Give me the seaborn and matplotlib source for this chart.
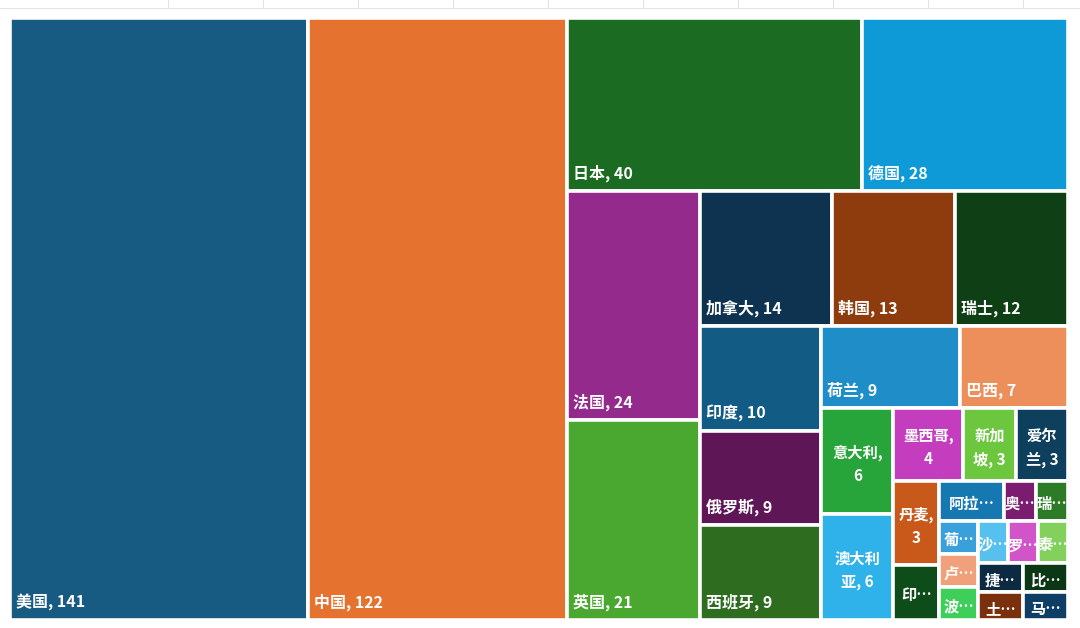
import matplotlib
matplotlib.use("Agg")
import matplotlib.pyplot as plt
import matplotlib.patches as mpatches
import seaborn as sns

# data (Excel style treemap)
countries = ["美国", "中国", "日本", "德国", "法国", "英国", "加拿大", "韩国", "瑞士",
             "印度", "俄罗斯", "西班牙", "荷兰", "巴西", "意大利", "澳大利亚",
             "墨西哥", "新加坡", "爱尔兰", "丹麦", "印度尼西亚",
             "阿拉伯联合酋长国", "奥地利", "瑞典", "葡萄牙", "卢森堡", "波兰",
             "沙特阿拉伯", "罗马尼亚", "泰国", "捷克", "土耳其", "比利时", "马来西亚"]
values = [141, 122, 40, 28, 24, 21, 14, 13, 12,
          10, 9, 9, 9, 7, 6, 6,
          4, 3, 3, 3, 2,
          2, 1, 1, 1, 1, 1,
          1, 1, 1, 1, 1, 1, 1]
labels = ["美国, 141", "中国, 122", "日本, 40", "德国, 28", "法国, 24", "英国, 21",
          "加拿大, 14", "韩国, 13", "瑞士, 12", "印度, 10", "俄罗斯, 9", "西班牙, 9",
          "荷兰, 9", "巴西, 7", "意大利,\n6", "澳大利\n亚, 6",
          "墨西哥,\n4", "新加\n坡, 3", "爱尔\n兰, 3", "丹麦,\n3", "印…",
          "阿拉…", "奥…", "瑞…", "葡…", "卢…", "波…",
          "沙…", "罗…", "泰…", "捷…", "土…", "比…", "马…"]
colors = ["#175a82", "#e5722e", "#1b6c22", "#0d9ad6", "#952a8d", "#4aa72f",
          "#0e3350", "#8e3c0d", "#0f3f15", "#115b84", "#5e1656", "#2e6c1f",
          "#1f8ec8", "#ed8f5b", "#27a43a", "#2fb2ea",
          "#c43dbe", "#6cc73e", "#0e405e", "#c9581b", "#0e4c19",
          "#1678b0", "#7b1c71", "#2c7b26", "#3aa0dc", "#f0a07a", "#3ecf5a",
          "#56c0ef", "#d254c9", "#83d05c", "#0c2b43", "#7a300d", "#0b3715", "#0e3e66"]
# number of tiles in each strip of the layout
strips = [1, 1, 2, 2, 3, 3, 2, 2, 3, 2, 3, 3, 3, 2, 1, 1]
# labels placed in the bottom-left corner, the rest centred
corner = 14

sns.set_theme(style="white")
plt.rcParams["font.family"] = ["Noto Sans CJK SC", "DejaVu Sans"]

W, H = 1058.0, 602.0


def layout(vals, counts, x, y, w, h):
    rects = []
    i = 0
    rest = float(sum(vals))
    for n in counts:
        grp = vals[i:i + n]
        s = float(sum(grp))
        if w >= h:
            sw = w * s / rest
            yy = y
            for v in grp:
                hh = h * v / s
                rects.append((x, yy, sw, hh))
                yy += hh
            x += sw
            w -= sw
        else:
            sh = h * s / rest
            xx = x
            for v in grp:
                ww = w * v / s
                rects.append((xx, y, ww, sh))
                xx += ww
            y += sh
            h -= sh
        rest -= s
        i += n
    return rects


fig = plt.figure(figsize=(10.8, 6.28), dpi=100)
fig.patch.set_facecolor("white")

# faint spreadsheet grid strip at the top
for gx in [168, 263, 358, 453, 548, 643, 738, 833, 928, 1023]:
    fig.add_artist(plt.Line2D([gx / 1080, gx / 1080], [1.0, 0.988],
                              color="#e3e3e3", lw=0.8))
fig.add_artist(plt.Line2D([0, 1], [0.988, 0.988], color="#e3e3e3", lw=0.8))

ax = fig.add_axes([10 / 1080, 8 / 628, W / 1080, H / 628])
ax.set_xlim(0, W)
ax.set_ylim(H, 0)
ax.axis("off")

rects = layout(values, strips, 0, 0, W, H)
for k, (rx, ry, rw, rh) in enumerate(rects):
    ax.add_patch(mpatches.Rectangle((rx, ry), rw, rh, facecolor=colors[k],
                                    edgecolor="white", linewidth=2.6))
    if k < corner:
        ax.text(rx + 6, ry + rh - 9, labels[k], color="white", fontsize=11.5,
                fontweight="bold", ha="left", va="bottom")
    else:
        ax.text(rx + rw / 2, ry + rh / 2 + 3, labels[k], color="white",
                fontsize=11, fontweight="bold", ha="center", va="center",
                linespacing=1.55, multialignment="center")

fig.savefig("out.png", dpi=100, facecolor="white")
